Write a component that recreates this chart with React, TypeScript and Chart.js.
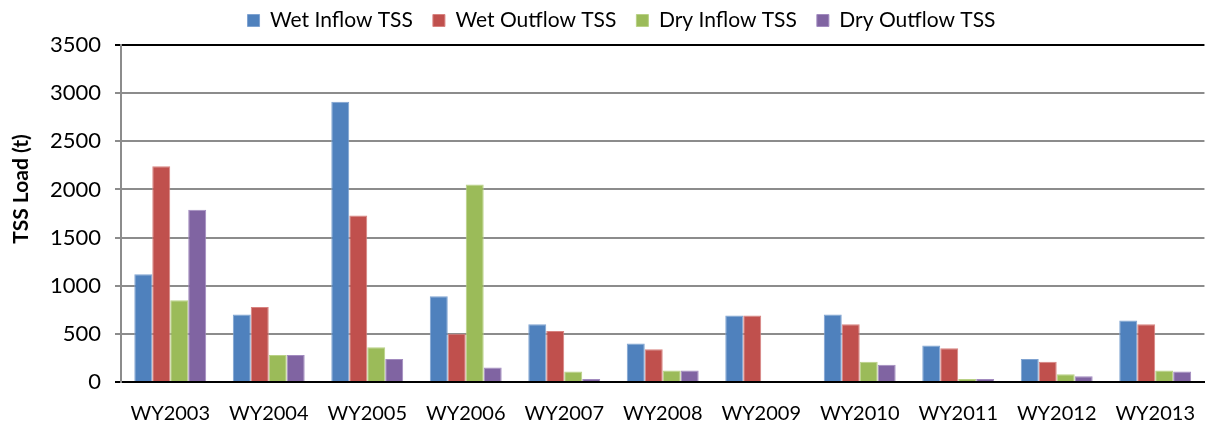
import React, { useEffect, useRef } from "react";
import { Chart, registerables } from "chart.js";

Chart.register(...registerables);

const categories = ["WY2003", "WY2004", "WY2005", "WY2006", "WY2007", "WY2008", "WY2009", "WY2010", "WY2011", "WY2012", "WY2013"];
const wetInflow = [1120, 700, 2910, 890, 600, 400, 690, 700, 380, 240, 640];
const wetOutflow = [2240, 780, 1730, 500, 530, 340, 690, 600, 350, 210, 600];
const dryInflow = [850, 280, 360, 2050, 110, 120, 0, 210, 30, 80, 120];
const dryOutflow = [1790, 280, 240, 150, 30, 120, 0, 180, 30, 60, 110];
const yTitle = "TSS Load (t)";

const FONT = "Lato";

const layoutTweaks = {
  id: "layoutTweaks",
  beforeInit(chart: any) {
    const lg = chart.legend;
    if (!lg) return;
    const orig = lg.fit;
    lg.fit = function () {
      orig.call(this);
      this.height = 45;
    };
  },
  afterLayout(chart: any) {
    const lg = chart.legend;
    if (!lg) return;
    lg.left += 14;
    lg.right += 14;
    lg.top -= 10;
    lg.bottom -= 10;
  },
  afterDraw(chart: any) {
    const ctx = chart.ctx;
    ctx.save();
    ctx.translate(21, 189);
    ctx.rotate(-Math.PI / 2);
    ctx.fillStyle = "#000";
    ctx.font = `bold 21px ${FONT}`;
    ctx.textAlign = "center";
    ctx.textBaseline = "middle";
    ctx.fillText(yTitle, 0, 0);
    ctx.restore();
  },
};

export default function App() {
  const ref = useRef<HTMLCanvasElement | null>(null);
  useEffect(() => {
    if (!ref.current) return;
    const mk = (label: string, data: number[], bg: string, bd: string) => ({
      label,
      data,
      backgroundColor: bg,
      borderColor: bd,
      borderWidth: 1,
      categoryPercentage: 0.73,
      barPercentage: 1.0,
    });
    const chart = new Chart(ref.current, {
      type: "bar",
      data: {
        labels: categories,
        datasets: [
          mk("Wet Inflow TSS", wetInflow, "#4F81BD", "#7FA3D1"),
          mk("Wet Outflow TSS", wetOutflow, "#C0504D", "#D88380"),
          mk("Dry Inflow TSS", dryInflow, "#9BBB59", "#B9D186"),
          mk("Dry Outflow TSS", dryOutflow, "#8064A2", "#A28BBF"),
        ],
      },
      plugins: [layoutTweaks],
      options: {
        animation: false,
        responsive: false,
        maintainAspectRatio: false,
        layout: { padding: { left: 0, right: 0, top: 0, bottom: 0 } },
        plugins: {
          tooltip: { enabled: false },
          legend: {
            position: "top",
            labels: {
              boxWidth: 12,
              boxHeight: 12,
              padding: 20,
              color: "#000",
              font: { family: FONT, size: 21 },
            },
          },
        },
        scales: {
          x: {
            grid: { display: false, drawTicks: false },
            border: { display: true, color: "#000", width: 2 },
            ticks: { color: "#000", padding: 20, font: { family: FONT, size: 20 } },
            afterFit: (s: any) => {
              s.height = 44;
            },
          },
          y: {
            min: 0,
            max: 3500,
            ticks: {
              stepSize: 500,
              color: "#000",
              padding: 14,
              font: { family: FONT, size: 22 },
              callback: (v: any) => String(v),
            },
            grid: {
              color: (ctx: any) => (ctx.tick && (ctx.tick.value === 3500 || ctx.tick.value === 0) ? "#000" : "#8c8c8c"),
              lineWidth: 2,
              tickLength: 6,
            },
            border: { display: true, color: "#8c8c8c", width: 2 },
            title: { display: false },
            afterFit: (s: any) => {
              s.width = 121;
            },
          },
        },
      },
    });
    return () => chart.destroy();
  }, []);
  return (
    <div style={{ position: "fixed", left: 0, top: 0, width: 1215, height: 426, background: "#fff" }}>
      <canvas ref={ref} width={1215} height={426} style={{ width: 1215, height: 426 }} />
    </div>
  );
}
